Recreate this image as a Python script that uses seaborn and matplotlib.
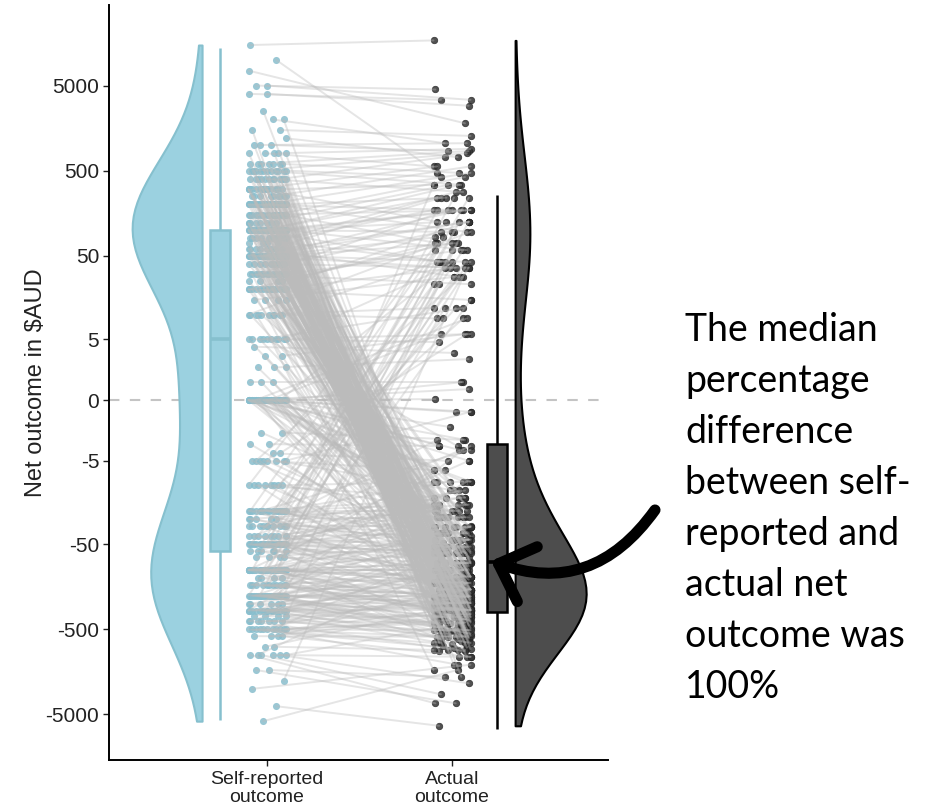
import numpy as np
import pandas as pd
import matplotlib
matplotlib.use("Agg")
import matplotlib.pyplot as plt
import seaborn as sns

# --- DATA ($AUD) ---
self_levels = [15000, 10000, 7500, 5000, 4000, 2500, 2000, 1500, 1200, 1000, 800, 600, 500, 400, 300, 250, 200, 150,
               120, 100, 80, 70, 60, 50, 40, 30, 25, 20, 15, 10, 5, 4, 3, 2, 1, 0, -2, -3, -4, -5, -10, -20, -25, -30,
               -40, -50, -60, -70, -100, -125, -150, -200, -250, -300, -350, -400, -500, -600, -800, -1000, -1500,
               -2000, -2500, -4000, -6000]

# actual outcome of every respondent, one list per self-reported level above
actual_by_level = [
    [17000], [470], [1800], [4500, 3400], [3400, 2900], [-280], [1050, -420], [1280, -900], [720],
    [1050, 850, -1800], [900, 560, -150, -250, -390], [850, 470, -245, -60, -330, -560, -750],
    [800, 420, 340, -120, -300, -510, -300, -420, -510, -700, -220, -640],
    [720, 280, -80, -205, -355, -180, -260, -340, -450, -600, -480, -850],
    [560, 340, 125, -37, -100, -170, -295, -610, -200, -250, -330, -400, -500, -640, -820, -430, -690],
    [560, -53, -142, -245, -160, -210, -310, -380, -480],
    [470, 240, 172, 95, -24, -63, -100, -142, -205, -245, -295, -415, -720, -1050, -90, -130, -170, -220, -270, -320,
     -370, -430, -520, -620, -780],
    [420, 172, 70, -31, -83, -170, -245, -355, -510, -110, -150, -190, -230, -280, -340, -450, -560],
    [340, -44, -120, -295, -130, -210, -300, -400],
    [340, 240, 172, 172, 125, 95, 58, 42, -14, -31, -53, -63, -83, -100, -120, -142, -170, -205, -205, -245, -295,
     -355, -415, -610, -870, -1300, -70, -110, -150, -190, -230, -260, -310, -350, -420, -480, -560, -700],
    [280, 42, -37, -120, -170, -510, -90, -180, -270, -360], [172, -20, -142, -295],
    [125, 28, -63, -205, -415, -100, -210, -340],
    [240, 172, 125, 82, 70, 42, 36, -17, -24, -44, -53, -83, -100, -120, -142, -170, -205, -245, -295, -355, -510,
     -720, -60, -95, -140, -220, -310, -440, -590],
    [95, 36, -31, -63, -120, -170, -245, -355, -1050],
    [172, 58, 23, -9, -44, -83, -142, -205, -295, -610, -100, -230, -400],
    [70, -37, -100, -245], [125, 70, 36, 15, -11.5, -24, -53, -83, -120, -170, -205, -295, -415, -870, -140, -280],
    [28, -44, -142, -355], [95, 42, 12, 9, -14, -31, -63, -120, -245, -510],
    [36, 12, 5.8, 4.6, -3.2, -17, -37, -100, -205, -1500], [3.3], [5.8, -53], [2.7, -83, -220], [1, -170, -120],
    [42, 9, 5.8, 1, .6, .05, -.65, -.65, -1.6, -2.6, -3.2, -3.6, -5, -6.5, -9, -9, -14, -17, -20, -24, -31, -37, -53,
     -63, -83, -100, -142, -205, -295, -415, -40, -75, -130, -260, -540],
    [-2.6, -30], [-3.2, -90], [5.8, -5], [28, -.65, -6.5, -11.5, -63, -48, -180, -350],
    [70, 9, -9, -14, -20, -100, -150, -330],
    [240, 58, 12, -3.6, -9, -14, -17, -20, -24, -31, -37, -44, -63, -83, -120, -245],
    [28, -17, -24, -53, -170], [172, 23, -2.6, -11.5, -20, -31, -37, -44, -83, -142],
    [58, -3.2, -17, -24, -37, -53, -83, -205],
    [340, 95, 36, 9, -5, -14, -20, -24, -31, -37, -44, -53, -63, -63, -83, -100, -120, -170, -295, -610],
    [42, -11.5, -44, -63, -100, -245], [-6.5, -53, -83, -142],
    [240, 125, 82, 42, 15, -9, -17, -24, -31, -44, -53, -63, -83, -83, -100, -100, -120, -120, -142, -142, -170, -205,
     -245, -295, -355, -870, -260, -390, -530],
    [-37, -83, -142, -205], [58, -44, -100, -170, -205, -295, -120, -300, -200, -310, -470],
    [125, 36, 12, -3.6, -31, -53, -83, -100, -120, -170, -205, -205, -245, -295, -355, -510, -240, -380, -460, -560,
     -650],
    [-44, -120, -170, -245, -295, -415],
    [70, -9, -63, -120, -170, -205, -245, -295, -355, -510, -280, -420, -600, -720],
    [-100, -245, -355, -720], [-83, -205, -415, -610, -330, -520, -900],
    [23, -53, -170, -295, -415, -510, -720, -1300, -380, -610, -830],
    [-142, -355, -610, -1050], [-295, -870], [-100, -415, -3700, -1050, -2900, -2150], [-3700, -1800], [28], [-1300],
    [-6800], [-1500],
]

# horizontal scatter of the dots, hundredths of a category step
self_jitter = [-9, 5, -10, -6, 0, -10, 0, -2, 3, 9, 7, -8, 10, -4, 2, -7, 6, -1, 10, -10, 4, -5, 8, -3, 1, -9, 7, 3,
               -6, 10, -2, 5, -8, 0, 9, -4, -10, 6, 2, -7, 8, -1, 4, -5, 10, -9, 3, -3, 7, -6, 1, 9, -8, 5, -2, 0, 6,
               -10, 8, -4, 2]
actual_jitter = [-10, -8, 7, -9, 10, -6, 9, 2, -4, 6, 10, -7, 3, 8, -2, 5, 10, -10, 1, 7, -5, 9, 4, -8, 6, 10, -3, 0,
                 8, -6, 5, 9, -9, 2, 10, -1, 7, -7, 4, 9, -4, 6, 10, -10, 3, 8, -2, 1, 9, -5, 7, 10, -8]

# five number summaries of the box plots
self_box = [-5800, -60, 5, 100, 14000]
actual_box = [-7500, -311, -80, -3, 257]

y_ticks = [5000, 500, 50, 5, 0, -5, -50, -500, -5000]
x_labels = ["Self-reported\noutcome", "Actual\noutcome"]
note_lines = ["The median", "percentage", "difference", "between self-", "reported and", "actual net", "outcome was",
              "100%"]

BLUE = "#9BD1E0"
BLUE_EDGE = "#86C0CE"
DOT_BLUE = "#88BECD"
DARK = "#4D4D4D"


def pseudo_log(v):
    return np.arcsinh(np.asarray(v, dtype=float) / 2) / np.log(10)


sns.set_theme(style="ticks")
plt.rcParams["font.family"] = ["Liberation Sans", "DejaVu Sans"]

sizes = [len(b) for b in actual_by_level]
self_vals = np.repeat(self_levels, sizes)
actual_vals = np.concatenate(actual_by_level)
n = len(self_vals)

df = pd.DataFrame({
    "id": np.arange(n),
    "self_y": pseudo_log(self_vals),
    "actual_y": pseudo_log(actual_vals),
    "self_x": 1 + np.resize(self_jitter, n) / 100,
    "actual_x": 2 + np.resize(actual_jitter, n) / 100,
})
long_df = pd.concat([
    df[["id", "self_x", "self_y"]].set_axis(["id", "x", "y"], axis=1),
    df[["id", "actual_x", "actual_y"]].set_axis(["id", "x", "y"], axis=1),
])

fig = plt.figure(figsize=(9.38, 8.09), dpi=100)
ax = fig.add_axes([109 / 938, 1 - 760 / 809, 499 / 938, 755 / 809])

ax.axhline(0, color="#c4c4c4", lw=1.5, ls=(0, (5, 5)), zorder=0.5)

# half violins, seaborn puts the flat edge half a width off the position
for pos, vals, col, edge, wid in [(0.46, df["self_y"], BLUE, BLUE_EDGE, 0.378),
                                  (2.533, df["actual_y"], DARK, "black", 0.384)]:
    vdf = pd.DataFrame({"pos": pos, "value": vals, "group": "Self" if col == BLUE else "Actual"})
    sns.violinplot(data=vdf, x="pos", y="value", hue="group", hue_order=["Self", "Actual"], native_scale=True,
                   split=True, inner=None, cut=0, bw_adjust=1.05, density_norm="width", width=wid, orient="x",
                   palette={"Self": col, "Actual": col}, saturation=1, linecolor=edge, linewidth=1.5, legend=False,
                   ax=ax)

# boxes
for pos, summary, col, edge in [(0.746, self_box, BLUE, BLUE_EDGE), (2.243, actual_box, DARK, "black")]:
    sns.boxplot(x=[pos] * 5, y=pseudo_log(summary), native_scale=True, orient="x", width=0.108, whis=(0, 100),
                showfliers=False, showcaps=False, color=col, linecolor=edge, linewidth=1.8, saturation=1,
                medianprops={"linewidth": 2.6}, ax=ax)

sns.scatterplot(data=df, x="self_x", y="self_y", color=DOT_BLUE, s=26, alpha=0.85, linewidth=0, zorder=2,
                legend=False, ax=ax)
sns.scatterplot(data=df, x="actual_x", y="actual_y", color="#333333", s=22, alpha=0.85, edgecolor="#222222",
                linewidth=0.5, zorder=2, legend=False, ax=ax)
sns.lineplot(data=long_df, x="x", y="y", units="id", estimator=None, sort=False, color="#bbbbbb", alpha=0.38, lw=1.4,
             zorder=3, legend=False, ax=ax)

ax.set_xlim(0.146, 2.843)
ax.set_ylim(-4.235, 4.647)
ax.set_xticks([1, 2], x_labels)
ax.set_yticks(pseudo_log(y_ticks), [str(t) for t in y_ticks])
ax.set_xlabel("")
ax.set_ylabel("Net outcome in $AUD", fontsize=17, color="#222222", labelpad=-1)
ax.tick_params(axis="both", labelsize=15, length=4, width=1, colors="#222222", pad=3)
ax.tick_params(axis="x", labelsize=14, pad=4)
for lab in ax.get_xticklabels():
    lab.set_linespacing(1.1)
sns.despine(ax=ax)
for s in ["left", "bottom"]:
    ax.spines[s].set_color("black")
    ax.spines[s].set_linewidth(1.4)

# arrow + note on the right
ax.annotate("", xy=(491, 809 - 561), xytext=(655, 809 - 510), xycoords="figure pixels", textcoords="figure pixels",
            annotation_clip=False, zorder=6,
            arrowprops=dict(arrowstyle="->,head_length=2.2,head_width=2.1", connectionstyle="arc3,rad=-0.38", lw=8,
                            color="black", mutation_scale=10, shrinkA=0, shrinkB=0, capstyle="round",
                            joinstyle="round"))

for i, line in enumerate(note_lines):
    fig.text(685 / 938, 1 - (330 + 51 * i) / 809, line, fontsize=27, family="Lato", color="black", va="center",
             ha="left")

fig.savefig("out.png", dpi=100)
